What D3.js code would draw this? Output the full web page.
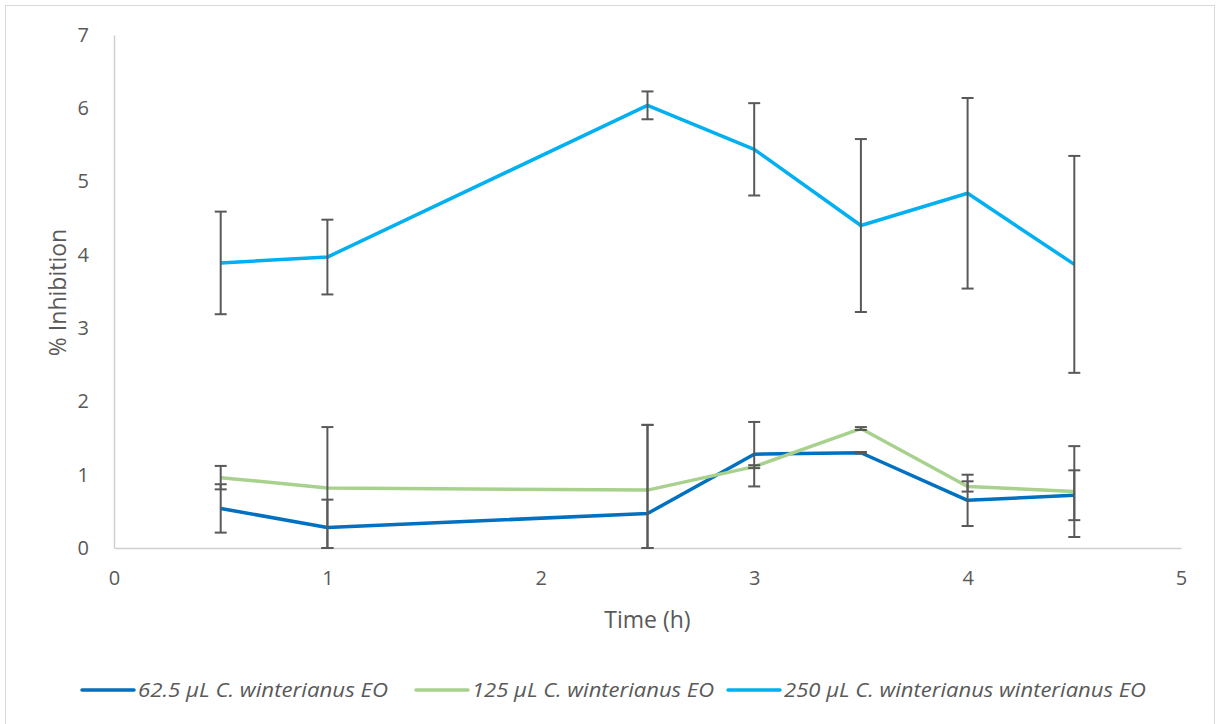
<!DOCTYPE html>
<html>
<head>
<meta charset="utf-8">
<script src="https://cdn.jsdelivr.net/npm/d3@7"></script>
<style>
  body { margin: 0; background: #fff; }
  svg { display: block; }
  text { font-family: "Open Sans", Lato, sans-serif; fill: #595959; }
</style>
</head>
<body>
<svg id="chart" width="1216" height="724"></svg>
<script>
// Sampling times (h)
const times = [0.5, 1, 2.5, 3, 3.5, 4, 4.5];

// Mean % inhibition per dose
const dose62 = [0.54, 0.28, 0.47, 1.28, 1.30, 0.65, 0.72];
const dose125 = [0.96, 0.82, 0.79, 1.11, 1.63, 0.84, 0.77];
const dose250 = [3.89, 3.97, 6.04, 5.44, 4.40, 4.84, 3.87];

// Standard deviations
const err62 = [0.33, 0.38, 1.21, 0.44, 0.01, 0.35, 0.34];
const err125 = [0.16, 0.83, 0.89, 0.02, 0.02, 0.07, 0.62];
const err250 = [0.70, 0.51, 0.19, 0.63, 1.18, 1.30, 1.48];

const seriesNames = [
  "62.5 μL C. winterianus EO",
  "125 μL C. winterianus EO",
  "250 μL C. winterianus winterianus EO"
];
const seriesColors = ["#0070C0", "#A9D18E", "#00B0F0"];

const xTicks = [0, 1, 2, 3, 4, 5];
const yTicks = [0, 1, 2, 3, 4, 5, 6, 7];

const series = [
  { name: seriesNames[0], color: seriesColors[0], values: dose62, errs: err62 },
  { name: seriesNames[1], color: seriesColors[1], values: dose125, errs: err125 },
  { name: seriesNames[2], color: seriesColors[2], values: dose250, errs: err250 }
];

const svg = d3.select("#chart");

// Outer frame
svg.append("rect")
  .attr("x", 5.5).attr("y", 5.5)
  .attr("width", 1209).attr("height", 730)
  .attr("fill", "#fff").attr("stroke", "#d9d9d9").attr("stroke-width", 1);

const x = d3.scaleLinear().domain([0, 5]).range([114, 1181]);
const y = d3.scaleLinear().domain([0, 7]).range([548, 35]);

// Axes
const xAxis = d3.axisBottom(x).tickValues(xTicks).tickSize(0).tickPadding(23).tickFormat(d3.format("d"));
const yAxis = d3.axisLeft(y).tickValues(yTicks).tickSize(0).tickPadding(25).tickFormat(d3.format("d"));

const gx = svg.append("g").attr("transform", `translate(0,${y(0)})`).call(xAxis);
const gy = svg.append("g").attr("transform", `translate(${x(0)},0)`).call(yAxis);
[gx, gy].forEach(g => {
  g.select(".domain").attr("stroke", "#d0d0d0").attr("stroke-width", 1.5);
  g.selectAll(".tick text").attr("font-size", 20).attr("fill", "#595959")
    .attr("font-family", "'Open Sans', Lato, sans-serif");
});

// Axis titles
svg.append("text")
  .attr("x", (x(0) + x(5)) / 2).attr("y", 628)
  .attr("text-anchor", "middle").attr("font-size", 23)
  .text("Time (h)");
svg.append("text")
  .attr("transform", `translate(66,${(y(0) + y(7)) / 2 + 1}) rotate(-90)`)
  .attr("text-anchor", "middle").attr("font-size", 23)
  .text("% Inhibition");

const line = d3.line().x(d => x(d.t)).y(d => y(d.v));

// Series lines
series.forEach(s => {
  const pts = times.map((t, i) => ({ t, v: s.values[i] }));
  svg.append("path")
    .datum(pts)
    .attr("d", line)
    .attr("fill", "none")
    .attr("stroke", s.color)
    .attr("stroke-width", 3.5)
    .attr("stroke-linejoin", "round");
});

// Error bars, clipped at the axis baseline
const capW = 6;
series.forEach(s => {
  const g = svg.append("g").attr("stroke", "#595959").attr("stroke-width", 2);
  times.forEach((t, i) => {
    const hi = s.values[i] + s.errs[i];
    const lo = Math.max(0, s.values[i] - s.errs[i]);
    const cx = x(t);
    g.append("line").attr("x1", cx).attr("x2", cx).attr("y1", y(hi)).attr("y2", y(lo));
    g.append("line").attr("x1", cx - capW).attr("x2", cx + capW).attr("y1", y(hi)).attr("y2", y(hi));
    g.append("line").attr("x1", cx - capW).attr("x2", cx + capW).attr("y1", y(lo)).attr("y2", y(lo));
  });
});

// Legend
const legendX = [82, 416, 728];
const legendW = [250, 242, 362];
const legend = svg.append("g");
series.forEach((s, i) => {
  const lg = legend.append("g").attr("transform", `translate(${legendX[i]},690)`);
  lg.append("line").attr("x1", 0).attr("x2", 52).attr("y1", 0).attr("y2", 0)
    .attr("stroke", s.color).attr("stroke-width", 3.5).attr("stroke-linecap", "round");
  lg.append("text").attr("x", 56).attr("y", 7)
    .attr("font-size", 20).attr("font-style", "italic")
    .attr("textLength", legendW[i]).attr("lengthAdjust", "spacingAndGlyphs")
    .text(s.name);
});
</script>
</body>
</html>
